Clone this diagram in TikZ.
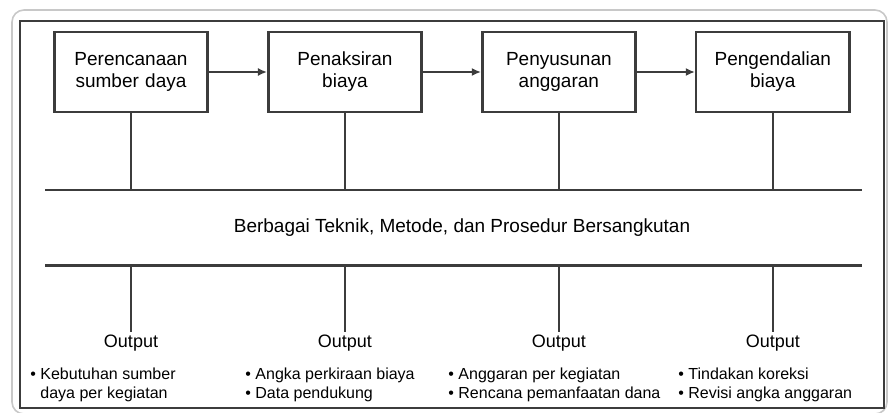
\documentclass[tikz,border=0pt]{standalone}
\usepackage{fontspec}
\setmainfont{Liberation Sans}
\usepackage{xcolor}
\usetikzlibrary{arrows.meta,positioning}
\definecolor{lgray}{RGB}{200,200,200}
\definecolor{dgray}{RGB}{60,60,60}
\newcommand{\itm}{\textbullet~}
\newcommand{\hng}{\phantom{\textbullet~}}

\begin{document}
\begin{tikzpicture}[
    x=0.5pt, y=-0.5pt,
    node distance=29pt,
    box/.style={draw=dgray, line width=1.3pt, minimum width=74pt, minimum height=40pt,
                text centered, text width=70pt, font=\fontsize{9.5}{11}\selectfont},
    arr/.style={-{Latex[length=4.5pt,width=4pt]}, line width=0.8pt, color=dgray},
    conn/.style={line width=0.9pt, color=dgray},
    lbl/.style={font=\fontsize{9}{10}\selectfont, inner sep=1pt},
    lst/.style={font=\fontsize{8}{9.6}\selectfont, align=left, anchor=north west, inner sep=0pt}
]
\useasboundingbox (0,0) rectangle (888,412);
% frames
\draw[lgray, line width=0.8pt, rounded corners=6pt] (12,10) rectangle (887,414);
\draw[dgray, line width=1.2pt] (20,21) rectangle (884,408);

% process boxes
\node[box] (b1) at (131,72) {Perencanaan\\sumber daya};
\node[box, right=of b1] (b2) {Penaksiran\\biaya};
\node[box, right=of b2] (b3) {Penyusunan\\anggaran};
\node[box, right=of b3] (b4) {Pengendalian\\biaya};
\draw[arr] (b1) -- (b2);
\draw[arr] (b2) -- (b3);
\draw[arr] (b3) -- (b4);

% band
\coordinate (tl) at (45,190);
\coordinate (tr) at (862,190);
\coordinate (bl) at (45,265);
\coordinate (br) at (862,265);
\draw[conn] (tl) -- (tr);
\draw[dgray, line width=1.5pt] (bl) -- (br);
\node[font=\fontsize{9.5}{11}\selectfont] (mid) at (462,228) {Berbagai Teknik, Metode, dan Prosedur Bersangkutan};

% outputs
\coordinate (oy) at (0,343);
\foreach \b in {1,2,3,4}{
  \node[lbl] (o\b) at (b\b |- oy) {Output};
  \draw[conn] (b\b.south) -- (b\b |- tl);
  \draw[conn] (b\b |- bl) -- (o\b.north);
}
\node[lst] (l1) at (30,367) {\itm Kebutuhan sumber\\\hng daya per kegiatan};
\node[lst] (l2) at (245,367) {\itm Angka perkiraan biaya\\\itm Data pendukung};
\node[lst] (l3) at (448,367) {\itm Anggaran per kegiatan\\\itm Rencana pemanfaatan dana};
\node[lst] (l4) at (678,367) {\itm Tindakan koreksi\\\itm Revisi angka anggaran};
\end{tikzpicture}
\end{document}
